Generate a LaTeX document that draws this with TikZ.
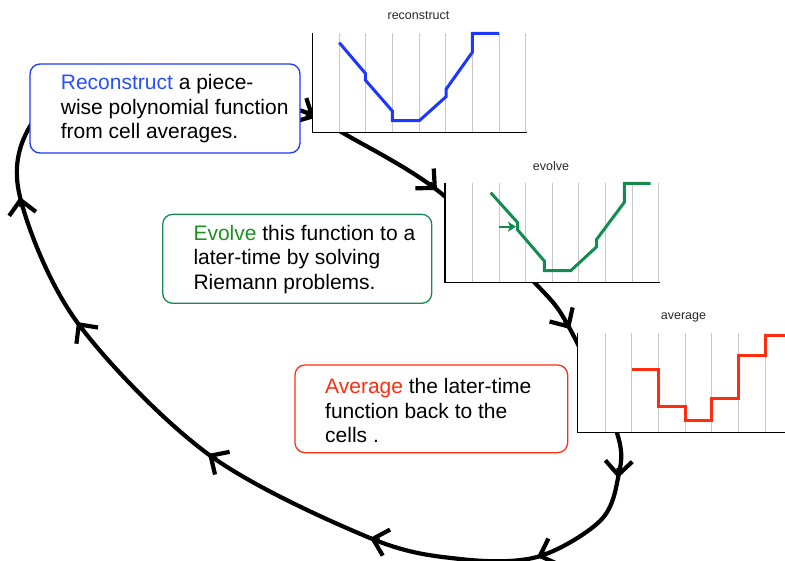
\documentclass[tikz,border=0pt]{standalone}
\usepackage{fontspec}
\setmainfont{Liberation Sans}
\usetikzlibrary{arrows.meta}
\definecolor{cblue}{RGB}{30,55,255}
\definecolor{cbluetext}{RGB}{40,80,255}
\definecolor{cgreen}{RGB}{20,140,80}
\definecolor{cgreentext}{RGB}{30,145,30}
\definecolor{cred}{RGB}{255,45,15}
\definecolor{cgrid}{RGB}{200,200,200}
\definecolor{ctitle}{RGB}{40,40,40}
\begin{document}
\begin{tikzpicture}[x=1pt,y=-1pt,
 loopline/.style={line width=4.2pt, black},
 looparrow/.style={line width=4.2pt, black, -{Straight Barb[length=14pt,width=27pt]}},
 plotbg/.style={fill=white, draw=none},
 gridline/.style={cgrid, line width=0.9pt},
 axisline/.style={black, line width=1.5pt},
 curve/.style={line width=3pt, line join=miter},
 textbox/.style={rounded corners=10pt, line width=1.3pt, fill=white, inner sep=0pt},
 boxtext/.style={anchor=west, align=left, inner sep=0pt, font=\fontsize{21}{24.5}\selectfont},
 plottitle/.style={font=\fontsize{12.5}{14}\selectfont, text=ctitle, inner sep=0pt}
]
\useasboundingbox (0,0) rectangle (785,560);

% loop coordinates
\coordinate (L1) at (29,128);
\coordinate (L2) at (85,82);
\coordinate (L3) at (200,84);
\coordinate (L4) at (305,112);
\coordinate (L5) at (343,133);
\coordinate (L7) at (535,283);
\coordinate (L9) at (617,433);
\coordinate (L11) at (600,521);
\coordinate (L13) at (460,559);
% arrow tips and their back points
\coordinate (a0) at (315,118);   \coordinate (a0b) at (306.2,113.3);
\coordinate (a1) at (437,190);   \coordinate (a1b) at (429.7,183.2);
\coordinate (a2) at (570,329);   \coordinate (a2b) at (564.8,320.5);
\coordinate (a3) at (618,478);   \coordinate (a3b) at (618.5,468);
\coordinate (a4) at (537,557);   \coordinate (a4b) at (546.4,553.6);
\coordinate (a5) at (370,538);   \coordinate (a5b) at (379.6,540.7);
\coordinate (a6) at (208,454);   \coordinate (a6b) at (216.4,459.4);
\coordinate (a7) at (77,322);    \coordinate (a7b) at (83,330);
\coordinate (a8) at (20,197);    \coordinate (a8b) at (21.5,206.9);

\draw[loopline] plot[smooth cycle, tension=0.55] coordinates
 {(L1) (L2) (L3) (L4) (L5) (a1) (L7) (a2) (L9) (a3) (L11) (a4) (L13) (a5) (a6) (a7) (a8)};
\foreach \t in {0,...,8} \draw[looparrow] (a\t b) -- (a\t);

% ---------- plot 1: reconstruct
\node[plottitle] (t1) at (418.5,16) {reconstruct};
\fill[plotbg] (312.5,33) rectangle (527,132.7);
\foreach \x in {339,365.7,392.3,419,445.7,472.3,499,525.7} \draw[gridline] (\x,33) -- (\x,132.7);
\draw[axisline] (312.5,33) -- (312.5,132.7) -- (527,132.7);
\draw[curve, cblue] (339.3,42.7) -- (365.3,73.3) -- (365.3,80) -- (392.3,111) -- (392.3,120.7)
  -- (419.3,120.7) -- (446,96.7) -- (446,89.3) -- (472.3,52.3) -- (472.3,33.3) -- (499,33.3);

% ---------- plot 2: evolve
\node[plottitle] (t2) at (551,166.5) {evolve};
\fill[plotbg] (445,183.3) rectangle (660,282.7);
\foreach \x in {472,499,525.7,552,578.3,605.7,632.3,658.7} \draw[gridline] (\x,183.3) -- (\x,282.7);
\draw[axisline] (445,183.3) -- (445,282.7) -- (660,282.7);
\draw[curve, cgreen] (490.7,192.7) -- (517.7,222.7) -- (517.7,230) -- (544.3,261) -- (544.3,270.7)
  -- (570.7,270.7) -- (596.7,246.7) -- (596.7,239.3) -- (624.3,202.3) -- (624.3,183.3) -- (650.7,183.3);
\coordinate (g0) at (499,226.7);
\coordinate (g1) at (516,226.7);
\draw[cgreen, line width=2pt, -{Stealth[length=8pt,width=10pt,inset=2pt]}] (g0) -- (g1);

% ---------- plot 3: average
\node[plottitle] (t3) at (683.5,317.5) {average};
\fill[plotbg] (577.3,333.3) rectangle (785,432.7);
\foreach \x in {605,631.7,658.3,685,711.7,738.3,765} \draw[gridline] (\x,333.3) -- (\x,432.7);
\draw[axisline] (577.3,333.3) -- (577.3,432.7) -- (785,432.7);
\draw[curve, cred] (631.7,369.3) -- (658.3,369.3) -- (658.3,406.7) -- (685,406.7) -- (685,420)
  -- (711.7,420) -- (711.7,398.3) -- (738.3,398.3) -- (738.3,355.7) -- (765,355.7) -- (765,335.7) -- (786,335.7);

% ---------- text boxes
\node[textbox, draw=cblue, minimum width=270pt, minimum height=89pt] (box1) at (165,108.5) {};
\node[boxtext] (txt1) at (60.7,109) {\textcolor{cbluetext}{Reconstruct} a piece-\\wise polynomial function\\from cell averages.};

\node[textbox, draw=cgreen, minimum width=269pt, minimum height=89pt] (box2) at (297.2,258.8) {};
\node[boxtext] (txt2) at (193.3,259.5) {\textcolor{cgreentext}{Evolve} this function to a\\later-time by solving\\Riemann problems.};

\node[textbox, draw=cred, minimum width=272.7pt, minimum height=87.7pt] (box3) at (431.3,408.8) {};
\node[boxtext] (txt3) at (325,410.5) {\textcolor{cred}{Average} the later-time\\function back to the\\cells .};
\end{tikzpicture}
\end{document}
